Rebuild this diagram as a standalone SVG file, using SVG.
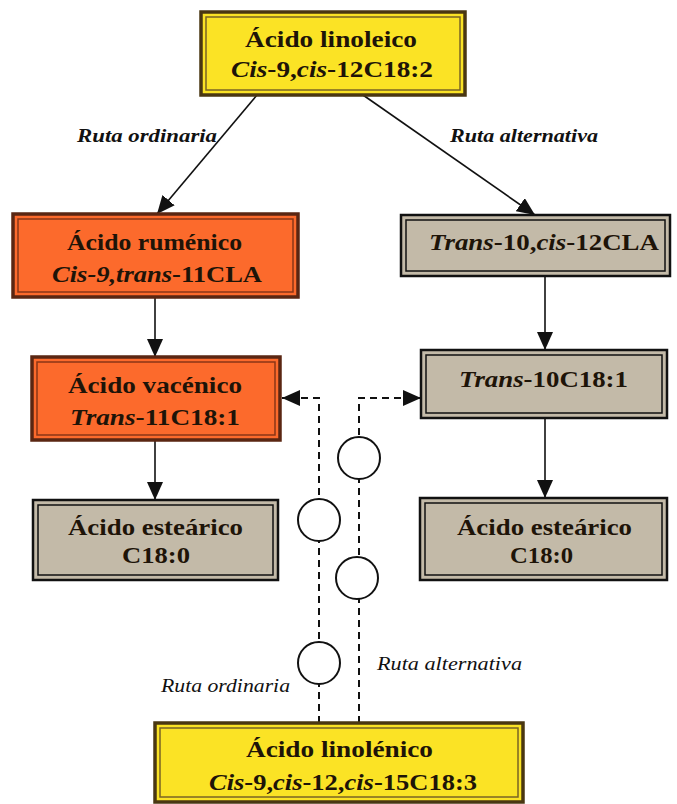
<svg xmlns="http://www.w3.org/2000/svg" width="677" height="804" viewBox="0 0 677 804">
<style>
text{font-family:'Liberation Serif',Tinos,'Times New Roman',Times,serif}
.t{font-weight:bold;font-size:24px;fill:#1e1408}
.i{font-style:italic}
.lbl{font-style:italic;font-size:19px;fill:#111}
.lb{font-weight:bold}
.yo{fill:#FBE325;stroke:#4a3712;stroke-width:3.5}
.yi{fill:none;stroke:#7a6424;stroke-width:1.5}
.oo{fill:#FC6A2C;stroke:#5a2612;stroke-width:3.5}
.oi{fill:none;stroke:#8a3616;stroke-width:1.5}
.go{fill:#C3BAA8;stroke:#111;stroke-width:2.5}
.gi{fill:none;stroke:#111;stroke-width:1.5}
.ln{stroke:#111;stroke-width:1.6;fill:none}
.dl{stroke:#111;stroke-width:2;fill:none;stroke-dasharray:7 5}
.c{fill:#fff;stroke:#111;stroke-width:2}
</style>
<defs>
<marker id="ah" markerUnits="userSpaceOnUse" markerWidth="18" markerHeight="16" refX="18" refY="8" orient="auto" viewBox="0 0 18 16">
<path d="M0,0 L18,8 L0,16 z" fill="#111"/>
</marker>
</defs>
<rect width="677" height="804" fill="#fff"/>

<g id="connectors">
<line class="ln" x1="257" y1="95" x2="157" y2="214" marker-end="url(#ah)"/>
<line class="ln" x1="363" y1="95" x2="535" y2="215" marker-end="url(#ah)"/>
<line class="ln" x1="155" y1="297" x2="155" y2="357" marker-end="url(#ah)"/>
<line class="ln" x1="155" y1="440" x2="155" y2="500" marker-end="url(#ah)"/>
<line class="ln" x1="545" y1="276" x2="545" y2="350" marker-end="url(#ah)"/>
<line class="ln" x1="545" y1="418" x2="545" y2="498" marker-end="url(#ah)"/>
<path class="dl" d="M319,723 L319,398 L282,398" marker-end="url(#ah)"/>
<path class="dl" d="M359,723 L359,398 L421,398" marker-end="url(#ah)"/>
<circle class="c" cx="359" cy="458" r="21"/>
<circle class="c" cx="319" cy="520" r="21"/>
<circle class="c" cx="357" cy="578" r="21"/>
<circle class="c" cx="319" cy="663" r="21"/>
<text class="lbl lb" x="77" y="142" textLength="140" lengthAdjust="spacingAndGlyphs">Ruta ordinaria</text>
<text class="lbl lb" x="450" y="142" textLength="148" lengthAdjust="spacingAndGlyphs">Ruta alternativa</text>
<text class="lbl" x="161" y="692" font-size="17" textLength="129" lengthAdjust="spacingAndGlyphs">Ruta ordinaria</text>
<text class="lbl" x="377" y="670" font-size="17" textLength="145" lengthAdjust="spacingAndGlyphs">Ruta alternativa</text>
</g>

<g id="linoleico">
<rect class="yo" x="201" y="12" width="264" height="83"/>
<rect class="yi" x="206" y="17" width="254" height="73"/>
<text class="t" x="245" y="47" textLength="172" lengthAdjust="spacingAndGlyphs">Ácido linoleico</text>
<text class="t" x="231" y="77" textLength="202" lengthAdjust="spacingAndGlyphs"><tspan class="i">Cis</tspan>-9,<tspan class="i">cis</tspan>-12C18:2</text>
</g>

<g id="rumenico">
<rect class="oo" x="13" y="214" width="285" height="83"/>
<rect class="oi" x="18" y="219" width="275" height="73"/>
<text class="t" x="67" y="250" textLength="175" lengthAdjust="spacingAndGlyphs">Ácido ruménico</text>
<text class="t" x="52" y="282" textLength="210" lengthAdjust="spacingAndGlyphs"><tspan class="i">Cis-9,trans</tspan>-11CLA</text>
</g>

<g id="trans10cis12">
<rect class="go" x="401" y="215" width="269" height="61"/>
<rect class="gi" x="406" y="220" width="259" height="51"/>
<text class="t" x="429" y="250" textLength="230" lengthAdjust="spacingAndGlyphs"><tspan class="i">Trans</tspan>-10,<tspan class="i">cis</tspan>-12CLA</text>
</g>

<g id="vacenico">
<rect class="oo" x="32" y="357" width="248" height="83"/>
<rect class="oi" x="37" y="362" width="238" height="73"/>
<text class="t" x="68" y="393" textLength="174" lengthAdjust="spacingAndGlyphs">Ácido vacénico</text>
<text class="t" x="70" y="425" textLength="170" lengthAdjust="spacingAndGlyphs"><tspan class="i">Trans</tspan>-11C18:1</text>
</g>

<g id="trans10c181">
<rect class="go" x="421" y="350" width="246" height="68"/>
<rect class="gi" x="426" y="355" width="236" height="58"/>
<text class="t" x="459" y="387" textLength="169" lengthAdjust="spacingAndGlyphs"><tspan class="i">Trans</tspan>-10C18:1</text>
</g>

<g id="estearico-izq">
<rect class="go" x="33" y="500" width="245" height="80"/>
<rect class="gi" x="38" y="505" width="235" height="70"/>
<text class="t" x="68" y="535" textLength="175" lengthAdjust="spacingAndGlyphs">Ácido esteárico</text>
<text class="t" x="122" y="563" textLength="68" lengthAdjust="spacingAndGlyphs">C18:0</text>
</g>

<g id="estearico-der">
<rect class="go" x="420" y="498" width="247" height="82"/>
<rect class="gi" x="425" y="503" width="237" height="72"/>
<text class="t" x="457" y="535" textLength="175" lengthAdjust="spacingAndGlyphs">Ácido esteárico</text>
<text class="t" x="510" y="563" textLength="63" lengthAdjust="spacingAndGlyphs">C18:0</text>
</g>

<g id="linolenico">
<rect class="yo" x="155" y="723" width="368" height="79"/>
<rect class="yi" x="160" y="728" width="358" height="69"/>
<text class="t" x="246" y="757" textLength="187" lengthAdjust="spacingAndGlyphs">Ácido linolénico</text>
<text class="t" x="209" y="790" textLength="268" lengthAdjust="spacingAndGlyphs"><tspan class="i">Cis</tspan>-9,<tspan class="i">cis</tspan>-12,<tspan class="i">cis</tspan>-15C18:3</text>
</g>
</svg>
